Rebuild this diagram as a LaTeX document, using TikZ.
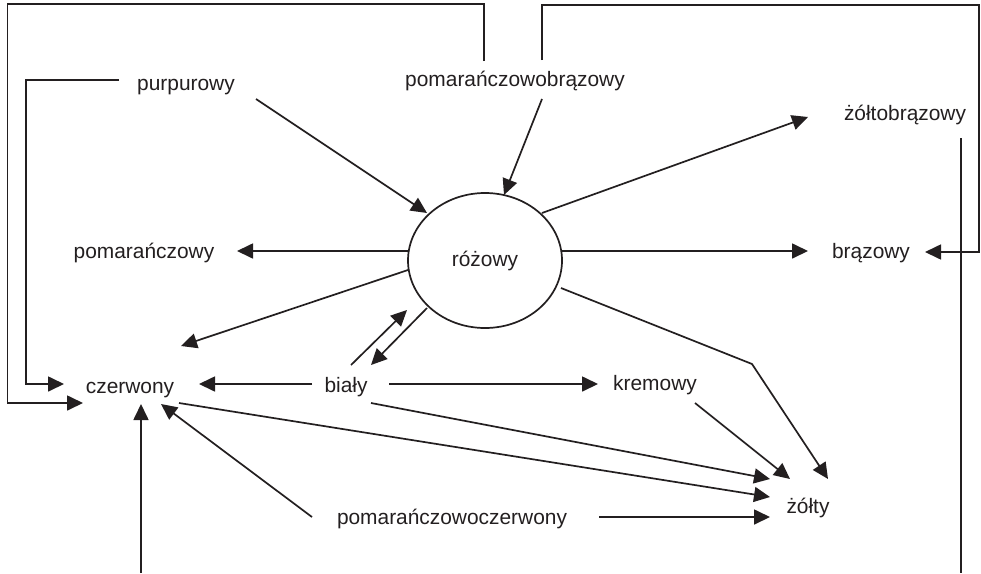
\documentclass[tikz,border=0pt]{standalone}
\usepackage{fontspec}
\setmainfont{Liberation Sans}
\usetikzlibrary{arrows.meta,calc,shapes.geometric}
\definecolor{ink}{HTML}{231F20}
\tikzset{
  lbl/.style={inner sep=0pt, anchor=base, text=ink, font=\fontsize{20.9}{24}\selectfont},
  conn/.style={draw=ink, line width=1.7pt},
  arr/.style={conn, -{Triangle[length=16pt,width=15pt]}, color=ink}
}
\begin{document}
\begin{tikzpicture}[x=1pt,y=-1pt]
\useasboundingbox[fill=white] (0,0) rectangle (981,573);
% nodes
\node[lbl] (purp) at (186,90) {purpurowy};
\node[lbl] (pbr) at (515,86) {pomarańczowobrązowy};
\node[lbl] (zbr) at (905,120) {żółtobrązowy};
\node[draw=ink, line width=1.7pt, ellipse, minimum width=154pt, minimum height=135pt, inner sep=0pt, text=ink, font=\fontsize{20.9}{24}\selectfont] (roz) at (485,260.5) {różowy};
\node[lbl] (brz) at (871,258) {brązowy};
\node[lbl] (pom) at (144,258) {pomarańczowy};
\node[lbl] (czer) at (130,393) {czerwony};
\node[lbl] (bial) at (346,392) {biały};
\node[lbl] (krem) at (655,390) {kremowy};
\node[lbl] (zolty) at (808,513) {żółty};
\node[lbl] (pcz) at (452,524) {pomarańczowoczerwony};
% helper coordinates
\coordinate (tlcorner) at (7.5,4);
\coordinate (c2corner) at (26,384);
\coordinate (trcorner) at (979,5);
\coordinate (bend) at (752,364);
\coordinate (bottomR) at (961,573);
\coordinate (bottomL) at (141,573);
% connectors
\draw[arr] ($(pbr.base)+(-31,-25)$) |- (tlcorner) |- ($(czer.base)+(-47,10)$);
\draw[arr] ($(purp.base)+(-67,-10)$) -| (c2corner) -- ($(czer.base)+(-66,-9)$);
\draw[arr] ($(purp.base)+(70,9)$) -- ($(roz.center)+(-58,-47.5)$);
\draw[arr] ($(pbr.base)+(27,13)$) -- ($(roz.center)+(19,-65.5)$);
\draw[arr] ($(pbr.base)+(27,-26)$) |- (trcorner) |- ($(brz.base)+(54,-6)$);
\draw[arr] ($(roz.center)+(57,-47.5)$) -- ($(zbr.base)+(-97,-3)$);
\draw[conn] ($(zbr.base)+(56,18)$) -- (bottomR);
\draw[arr] ($(roz.center)+(77,-9.5)$) -- ($(brz.base)+(-63,-7)$);
\draw[arr] ($(roz.center)+(-77,-9.5)$) -- ($(pom.base)+(93,-7)$);
\draw[arr] ($(roz.center)+(-77,9.5)$) -- ($(czer.base)+(51,-47)$);
\draw[arr] ($(bial.base)+(5,-27)$) -- ($(roz.center)+(-78,49.5)$);
\draw[arr] ($(roz.center)+(-58,47.5)$) -- ($(bial.base)+(25,-27)$);
\draw[arr] ($(bial.base)+(-34,-8)$) -- ($(czer.base)+(69,-9)$);
\draw[arr] ($(bial.base)+(43,-8)$) -- ($(krem.base)+(-57,-6)$);
\draw[arr] ($(krem.base)+(40,13)$) -- ($(zolty.base)+(-18,-34)$);
\draw[arr] ($(roz.center)+(76,27.5)$) -- (bend) -- ($(zolty.base)+(20,-34)$);
\draw[arr] ($(bial.base)+(25,11)$) -- ($(zolty.base)+(-38,-34)$);
\draw[arr] ($(czer.base)+(49,10)$) -- ($(zolty.base)+(-38,-16)$);
\draw[arr] ($(pcz.base)+(-140,-7)$) -- ($(czer.base)+(31,11)$);
\draw[arr] ($(pcz.base)+(147,-7)$) -- ($(zolty.base)+(-38,4)$);
\draw[arr] (bottomL) -- ($(czer.base)+(11,11)$);
\end{tikzpicture}
\end{document}
